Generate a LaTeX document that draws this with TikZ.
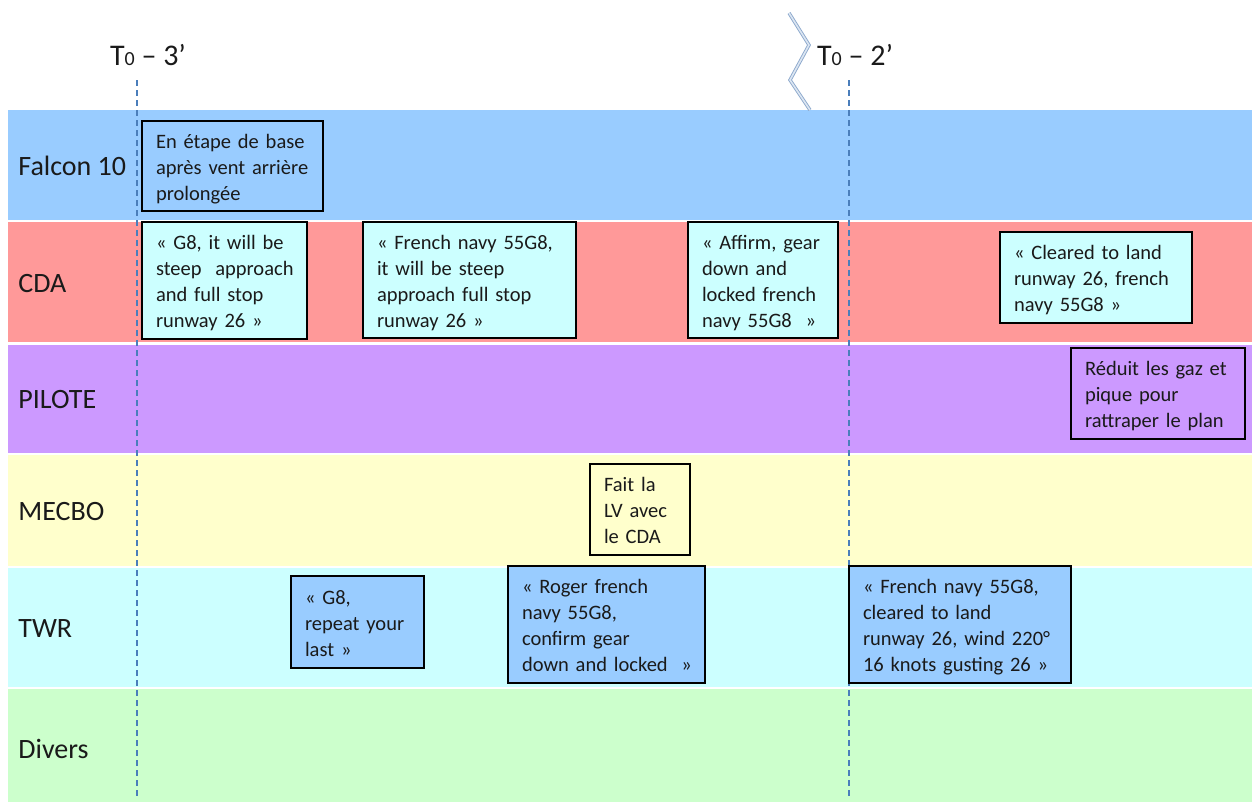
\documentclass[tikz,border=0pt]{standalone}
\usepackage{fontspec}
\setmainfont{Carlito}
\definecolor{falconbg}{HTML}{99CCFF}
\definecolor{cdabg}{HTML}{FF9999}
\definecolor{pilotebg}{HTML}{CC99FF}
\definecolor{mecbobg}{HTML}{FFFFCC}
\definecolor{twrbg}{HTML}{CCFFFF}
\definecolor{diversbg}{HTML}{CCFFCC}
\definecolor{tlblue}{HTML}{4A7EBB}
\definecolor{zigdark}{HTML}{8CA8CC}
\definecolor{ziglight}{HTML}{DCE6F2}
\definecolor{ink}{HTML}{1A1A1A}
\tikzset{
  lane/.style={draw=none},
  lanelabel/.style={anchor=west, inner sep=0pt, text=ink, font=\fontsize{14}{17}\selectfont},
  timelabel/.style={inner sep=0pt, text=ink, font=\fontsize{15}{18}\selectfont},
  timeline/.style={draw=tlblue, line width=0.6pt, dash pattern=on 3pt off 2pt},
  zigzag/.style={draw=zigdark, double=ziglight, double distance=0.8pt, line width=0.45pt, line join=miter},
  msg/.style={draw=black, line width=0.8pt, align=left, inner xsep=7pt, inner ysep=0pt, text=ink,
              font=\fontsize{10.25}{13}\selectfont},
}
\newcommand\zero{{\fontsize{10}{10}\selectfont 0}}
% message text: lines kept whole, set a touch below the box centre
\newcommand\msgtext[1]{\raisebox{-1.5pt}[\height][\depth]{\begin{tabular}{@{}l@{}}#1\end{tabular}}}
\begin{document}
\begin{tikzpicture}[x=0.5pt, y=-0.5pt]
  \useasboundingbox (0,0) rectangle (1256,803);

  % swim lanes
  \fill[lane, falconbg] (8,110) rectangle (1252,220);
  \fill[lane, cdabg]    (8,222) rectangle (1252,342);
  \fill[lane, pilotebg] (8,345) rectangle (1252,453);
  \fill[lane, mecbobg]  (8,455) rectangle (1252,566);
  \fill[lane, twrbg]    (8,568) rectangle (1252,687);
  \fill[lane, diversbg] (8,689) rectangle (1252,802);

  \node[lanelabel] (lfalcon) at (18,166) {Falcon 10};
  \node[lanelabel] (lcda)    at (18,284) {CDA};
  \node[lanelabel] (lpilote) at (18,400) {PILOTE};
  \node[lanelabel] (lmecbo)  at (18,512) {MECBO};
  \node[lanelabel] (ltwr)    at (18,629) {TWR};
  \node[lanelabel] (ldivers) at (18,749) {Divers};

  % time marks
  \coordinate (m3top) at (137,80);
  \coordinate (m3bot) at (137,797);
  \coordinate (m2top) at (849,80);
  \coordinate (m2bot) at (849,797);
  \draw[timeline] (m3top) -- (m3bot);
  \draw[timeline] (m2top) -- (m2bot);
  \node[timelabel] (t3) at (148,55) {T\zero{} – 3’};
  \node[timelabel] (t2) at (855,55) {T\zero{} – 2’};

  % time break
  \coordinate (z1) at (789,13);
  \coordinate (z2) at (809,45);
  \coordinate (z3) at (790,80);
  \coordinate (z4) at (810,110);
  \draw[zigzag] (z1) -- (z2) -- (z3) -- (z4);

  % Falcon 10
  \node[msg, fill=falconbg, text width=76.5pt, minimum height=45pt] (fb) at (232.5,166)
    {\msgtext{En étape de base\\après vent arrière\\prolongée}};

  % CDA
  \node[msg, fill=twrbg, text width=68.5pt, minimum height=58.5pt] (c1) at (224.5,280.5)
    {\msgtext{« G8, it will be\\steep~ approach\\and full stop\\runway 26 »}};
  \node[msg, fill=twrbg, text width=92.5pt, minimum height=58pt] (c2) at (469.5,280)
    {\msgtext{« French navy 55G8,\\it will be steep\\approach full stop\\runway 26 »}};
  \node[msg, fill=twrbg, text width=61pt, minimum height=58pt] (c3) at (763,280)
    {\msgtext{« Affirm, gear\\down and\\locked french\\navy 55G8~ »}};
  \node[msg, fill=twrbg, text width=82pt, minimum height=45.5pt] (c4) at (1096,277.5)
    {\msgtext{« Cleared to land\\runway 26, french\\navy 55G8 »}};

  % PILOTE
  \node[msg, fill=pilotebg, text width=73pt, minimum height=45.5pt] (p1) at (1158,393.5)
    {\msgtext{Réduit les gaz et\\pique pour\\rattraper le plan}};

  % MECBO
  \node[msg, fill=mecbobg, text width=36pt, minimum height=45.5pt] (m1) at (640,509.5)
    {\msgtext{Fait la\\LV avec\\le CDA}};

  % TWR
  \node[msg, fill=falconbg, text width=52.5pt, minimum height=46pt] (tw1) at (357.5,622)
    {\msgtext{« G8,\\repeat your\\last »}};
  \node[msg, fill=falconbg, text width=84.5pt, minimum height=58.5pt] (tw2) at (606.5,624.5)
    {\msgtext{« Roger french\\navy 55G8,\\confirm gear\\down and locked~ »}};
  \node[msg, fill=falconbg, text width=97pt, minimum height=58.5pt] (tw3) at (960,624.5)
    {\msgtext{« French navy 55G8,\\cleared to land\\runway 26, wind 220°\\16 knots gusting 26 »}};
\end{tikzpicture}
\end{document}
